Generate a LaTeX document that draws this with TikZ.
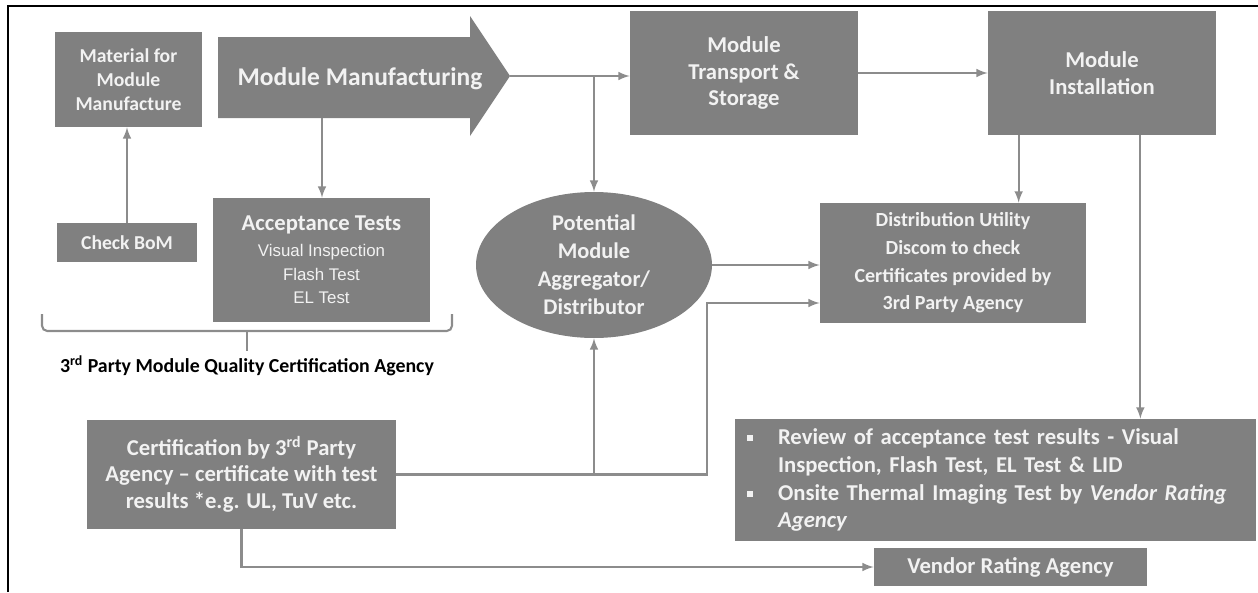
\documentclass[tikz,border=0pt]{standalone}
\usepackage{fontspec}
\setmainfont{Carlito}
\newfontfamily\arialfont{Liberation Sans}
\usepackage{tikz}
\usetikzlibrary{positioning}
\usetikzlibrary{arrows}
\usetikzlibrary{shapes.geometric}
\colorlet{boxfillc}{black!50}
\colorlet{linec}{black!45}
\colorlet{boxtextc}{white!95!black}
\newcommand\revbul{\makebox[0.62cm][l]{\rule[0.3ex]{0.12cm}{0.12cm}}}

\begin{document}
\begin{tikzpicture}[x=0.02cm,y=-0.02cm,
  box/.style={draw=none,fill=boxfillc,text=boxtextc,shape=rectangle,align=center,inner sep=0pt,
    font=\bfseries\fontsize{12.9}{15.3}\selectfont},
  link/.style={draw=linec,line width=1.2pt,-latex},
  plain/.style={draw=linec,line width=1.2pt}]
\useasboundingbox (0,0) rectangle (1258,592);
\draw[line width=1.5pt,black] (8,592) -- (8,6) -- (1258,6);

\node[box,minimum width=2.94cm,minimum height=1.9cm,font=\bfseries\fontsize{11.2}{13.6}\selectfont]
(mat) at (128.5,79.5) {Material for\\Module\\Manufacture};
\node[box,minimum width=2.8cm,minimum height=0.78cm,font=\bfseries\fontsize{11.2}{13.6}\selectfont]
(bom) at (127,242.5) {Check BoM};

\fill[boxfillc] (218,37) -- (470,37) -- (470,16) -- (510,76) -- (470,136) -- (470,118) -- (218,118) -- cycle;
\node[text=boxtextc,font=\bfseries\fontsize{14.5}{17}\selectfont] (manu) at (360,79) {Module Manufacturing};
\coordinate (manutip) at (510,76);
\coordinate (manubot) at (322,118);

\node[box,minimum width=4.34cm,minimum height=2.48cm,font=\arialfont\fontsize{9.6}{13.6}\selectfont]
(acc) at (321.5,260) {{\rmfamily\bfseries\fontsize{12.9}{15.3}\selectfont Acceptance Tests}\\[1pt]Visual Inspection\\Flash Test\\EL Test};
\node[box,shape=ellipse,minimum width=4.72cm,minimum height=2.92cm,font=\bfseries\fontsize{12.75}{15.9}\selectfont]
(agg) at (594,265) {Potential\\Module\\Aggregator/\\Distributor};
\node[box,minimum width=4.56cm,minimum height=2.48cm]
(trans) at (744,73) {Module\\Transport \&\\Storage};
\node[box,minimum width=4.56cm,minimum height=2.48cm]
(inst) at (1102,73) {Module\\Installation};
\node[box,minimum width=5.32cm,minimum height=2.4cm,font=\bfseries\fontsize{11.4}{15.7}\selectfont]
(dist) at (953,263) {Distribution Utility\\Discom to check\\Certificates provided by\\3rd Party Agency};
\node[box,minimum width=6.18cm,minimum height=2.18cm,font=\bfseries\fontsize{12.9}{15}\selectfont]
(cert) at (241.5,474.5) {Certification by 3\textsuperscript{rd} Party\\Agency -- certificate with test\\results *e.g. UL, TuV etc.};
\node[box,minimum width=10.42cm,minimum height=2.44cm,align=left,text width=9.94cm,inner xsep=0.24cm,
  font=\bfseries\fontsize{12.9}{15.9}\selectfont]
(rev) at (995.5,480) {\revbul Review of acceptance test results - Visual\\\hspace*{0.62cm}Inspection, Flash Test, EL Test \& LID\\\revbul Onsite Thermal Imaging Test by \textit{Vendor Rating}\\\hspace*{0.62cm}\textit{Agency}};
\node[box,minimum width=5.46cm,minimum height=0.76cm]
(vend) at (1010.5,567) {Vendor Rating Agency};

% brace under the agency boxes
\draw[plain,rounded corners=3pt] (42,314) -- (42,331) -- (452,331) -- (452,314);
\draw[plain] (247,331) -- (247,351);
\node[font=\bfseries\fontsize{11.3}{13}\selectfont,text=black] (qca) at (247,366) {3\textsuperscript{rd} Party Module Quality Certification Agency};

\draw[link] (bom.north) -- (bom.north |- mat.south);
\draw[link] (manubot) -- (manubot |- acc.north);
\draw[link] (manutip) -- (manutip -| trans.west);
\draw[link] (agg.north |- manutip) -- (agg.north);
\draw[link] (trans) -- (inst);
\draw[link] ([xshift=0.62cm]inst.south west) -- ([xshift=0.62cm]inst.south west |- dist.north);
\draw[link] ([xshift=-1.52cm]inst.south east) -- ([xshift=-1.52cm]inst.south east |- rev.north);
\draw[link] (agg.east) -- (agg.east -| dist.west);
\draw[link] (cert.east) -- ++(311,0) |- ([yshift=-0.8cm]dist.west);
\draw[link] (agg.south |- cert.east) -- (agg.south);
\draw[link] (cert.south) |- (vend.west);

\end{tikzpicture}
\end{document}
